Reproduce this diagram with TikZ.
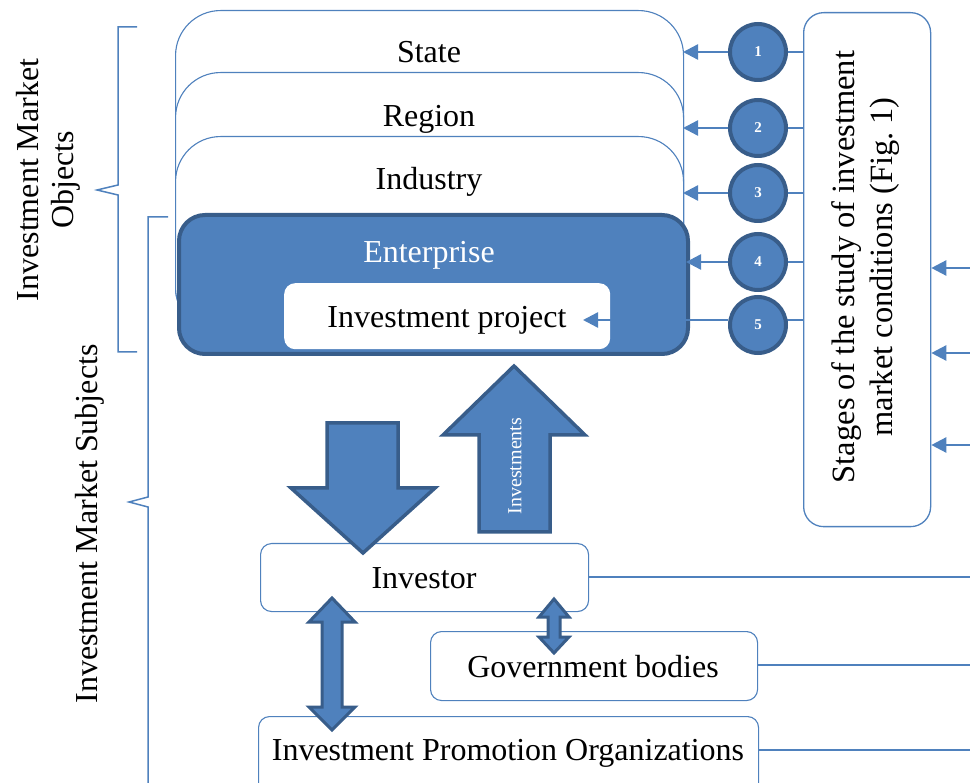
\documentclass[tikz,border=0pt]{standalone}
\usepackage{fontspec}
\setmainfont{Liberation Serif}
\usetikzlibrary{arrows.meta}
\definecolor{bl}{HTML}{4F81BD}
\definecolor{dk}{HTML}{385D8A}
\begin{document}
\begin{tikzpicture}[x=1pt,y=-1pt,
  txt/.style={font=\fontsize{32}{38}\selectfont, inner sep=0pt},
  lvl/.style={draw=bl, line width=1.1pt, fill=white, rounded corners=45pt, anchor=north west, inner sep=0pt},
  wbox/.style={draw=bl, line width=1.1pt, fill=white, rounded corners=11pt, anchor=north west, inner sep=0pt},
  stage/.style={circle, fill=bl, draw=dk, line width=4pt, minimum size=56pt, inner sep=0pt, text=white, font=\fontsize{15}{17}\selectfont\bfseries},
  conn/.style={draw=bl, line width=2.4pt},
  tip/.style={-{Triangle[length=15pt,width=15pt]}},
  block/.style={fill=bl, draw=dk, line width=3.5pt, line join=miter},
  brace/.style={draw=bl, line width=1.5pt}
]
\useasboundingbox (0,0) rectangle (970,783);

% brackets
\draw[brace] (137,27) -- (118,27) -- (118,185) -- (97,190) -- (118,195) -- (118,352) -- (137,352);
\draw[brace] (168,217) -- (148,217) -- (148,497) -- (129,502) -- (148,507) -- (148,783);
\node[txt, rotate=90, align=center] (objlbl) at (48,180) {Investment Market\\[-3pt]Objects};
\node[txt, rotate=90] (subjlbl) at (90,524) {Investment Market Subjects};

% nested levels
\node[lvl, minimum width=508pt, minimum height=320pt] (state) at (175,10) {};
\node[txt] (stateT) at (429,52) {State};
\node[lvl, minimum width=508pt, minimum height=260pt] (region) at (175,72) {};
\node[txt] (regionT) at (429,119) {Region};
\node[lvl, minimum width=508pt, minimum height=196pt] (industry) at (175,136) {};
\node[txt] (industryT) at (429,182) {Industry};
\node[draw=dk, fill=bl, line width=4pt, rounded corners=26pt, anchor=north west, minimum width=509pt, minimum height=139pt, inner sep=0pt] (enterprise) at (177,213) {};
\node[txt, text=white] (enterpriseT) at (429,255) {Enterprise};
\node[fill=white, rounded corners=11pt, anchor=north west, minimum width=326pt, minimum height=66pt, inner sep=0pt] (project) at (284,283) {};
\node[txt] (projectT) at (447,320) {Investment project};

% stages box
\node[draw=bl, line width=1.3pt, fill=white, rounded corners=20pt, anchor=north west, minimum width=127pt, minimum height=514pt, inner sep=0pt] (stages) at (803,12) {};
\node[txt, rotate=90, align=center, font=\fontsize{32.5}{38}\selectfont] (stagesT) at (866,267) {Stages of the study of investment\\market conditions (Fig.~1)};

% stage circles and connectors
\coordinate (a1) at (683,52);
\coordinate (a2) at (683,128);
\coordinate (a3) at (683,193);
\coordinate (a4) at (686,262);
\coordinate (a5) at (583,320);
\foreach \i/\y in {1/52,2/128,3/193,4/262,5/320}{
  \coordinate (s\i) at (803,\y);
}
\draw[conn] (s1) -- (758,52);
\draw[conn] (s2) -- (758,128);
\draw[conn] (s3) -- (758,193);
\draw[conn] (s4) -- (758,262);
\draw[conn] (s5) -- (758,320);
\node[stage] (c1) at (758,52) {1};
\node[stage] (c2) at (758,128) {2};
\node[stage] (c3) at (758,193) {3};
\node[stage] (c4) at (758,262) {4};
\node[stage] (c5) at (758,325) {5};
\draw[conn, tip] (c1.west) -- (a1);
\draw[conn, tip] (c2.west) -- (a2);
\draw[conn, tip] (c3.west) -- (a3);
\draw[conn, tip] (c4.west) -- (a4);
\draw[conn, tip] (c5.west |- a5) -- (a5);

% lower boxes
\node[wbox, minimum width=328pt, minimum height=68pt] (investor) at (260,543) {};
\node[txt] (investorT) at (424,578) {Investor};
\node[wbox, minimum width=327pt, minimum height=69pt] (gov) at (430,631) {};
\node[txt] (govT) at (593,667) {Government bodies};
\node[wbox, minimum width=500pt, minimum height=90pt] (ipo) at (258,716) {};
\node[txt] (ipoT) at (508,753) {Investment Promotion Organizations};

% incoming lines at right edge
\coordinate (r1) at (970,268);
\coordinate (r2) at (970,353);
\coordinate (r3) at (970,445);
\draw[conn, tip] (r1) -- (r1 -| stages.east);
\draw[conn, tip] (r2) -- (r2 -| stages.east);
\draw[conn, tip] (r3) -- (r3 -| stages.east);
\coordinate (e1) at (970,577);
\coordinate (e2) at (970,665);
\coordinate (e3) at (970,750);
\draw[conn] (investor.east |- e1) -- (e1);
\draw[conn] (gov.east |- e2) -- (e2);
\draw[conn] (ipo.east |- e3) -- (e3);

% block arrows
\draw[block] (327,423) -- (398,423) -- (398,488) -- (435,488) -- (363,553) -- (291,488) -- (327,488) -- cycle;
\draw[block] (479,532) -- (550,532) -- (550,435) -- (585,435) -- (514,366) -- (443,435) -- (479,435) -- cycle;
\node[rotate=90, text=white, font=\fontsize{20}{24}\selectfont, inner sep=0pt] (investT) at (515,466) {Investments};

% double arrows
\draw[block, line width=3pt] (322,622) -- (309,622) -- (332,598) -- (355,622) -- (342,622) -- (342,707) -- (355,707) -- (332,730) -- (309,707) -- (322,707) -- cycle;
\draw[block, line width=3pt] (548,617) -- (539,617) -- (554,599) -- (569,617) -- (560,617) -- (560,637) -- (569,637) -- (554,653) -- (539,637) -- (548,637) -- cycle;
\end{tikzpicture}
\end{document}
